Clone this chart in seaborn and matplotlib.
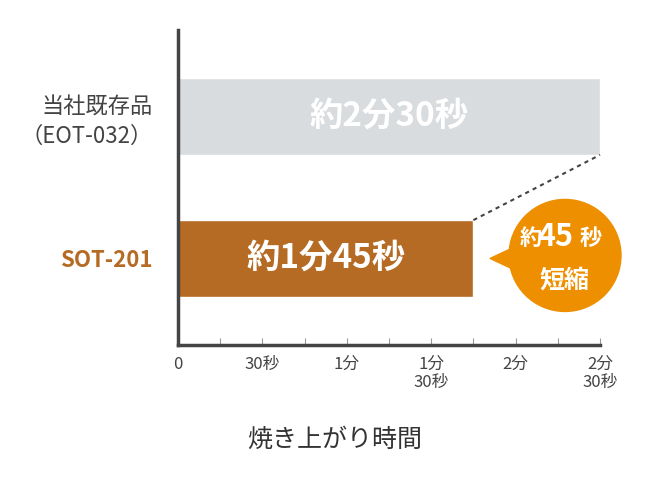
import matplotlib
matplotlib.use('Agg')
import matplotlib.pyplot as plt
import seaborn as sns
from matplotlib.patches import Ellipse, Polygon

products = ['SOT-201', '当社既存品\n（EOT-032）']
seconds = [105, 150]
bar_labels = ['約1分45秒', '約2分30秒']
bar_colors = ['#B56B24', '#D9DCDF']
tick_pos = [0, 30, 60, 90, 120, 150]
tick_labels = ['0', '30秒', '1分', '1分\n30秒', '2分', '2分\n30秒']

sns.set_style('white')
plt.rcParams['font.family'] = ['Noto Sans CJK JP', 'DejaVu Sans']

fig = plt.figure(figsize=(6.7, 5), dpi=100)
ax = fig.add_axes([178/670, 1-345/500, 422/670, 315/500])

sns.barplot(x=seconds, y=[0, 1], orient='h', native_scale=True, palette=bar_colors,
            hue=[0, 1], legend=False, width=0.54, ax=ax, saturation=1)
ax.set_xlim(0, 150)
ax.set_ylim(-0.61, 1.61)

for y, (s, lab) in enumerate(zip(seconds, bar_labels)):
    ax.text(s/2, y, lab, ha='center', va='center', color='white', fontsize=24, fontweight='bold')

ax.set_yticks([0, 1])
ax.set_yticklabels(products, fontsize=16, color='#444444', linespacing=1.3)
ax.get_yticklabels()[0].set_color('#B56B24')
ax.get_yticklabels()[0].set_fontweight('bold')
ax.tick_params(axis='y', length=0, pad=18)

ax.set_xticks(range(0, 151, 15), minor=False)
ax.set_xticklabels([tick_labels[tick_pos.index(t)] if t in tick_pos else '' for t in range(0, 151, 15)],
                   fontsize=12, color='#444444', va='top', linespacing=1.1)
ax.tick_params(axis='x', direction='in', length=5, color='#999999', pad=8)
ax.xaxis.set_ticks_position('bottom')

for sp in ['top', 'right']:
    ax.spines[sp].set_visible(False)
for sp in ['left', 'bottom']:
    ax.spines[sp].set_color('#444444')
    ax.spines[sp].set_linewidth(2.5)

ax.plot([105, 150], [0.27, 0.73], ls=(0, (2, 2)), color='#444444', lw=1.5, clip_on=False)

pxx, pxy = 422/150, 315/2.22
cx, cy = (565-178)/pxx, (258-255)/pxy
ax.add_patch(Ellipse((cx, cy), 2*56/pxx, 2*56/pxy, color='#EE8F00', clip_on=False, zorder=5))
ax.add_patch(Polygon([((490-178)/pxx, 0), ((520-178)/pxx, 14/pxy), ((520-178)/pxx, -14/pxy)],
                     color='#EE8F00', clip_on=False, zorder=5))
ax.text(cx - 1, cy + 0.13, r'約$\mathbf{\,}$', ha='right', va='center', color='white', fontsize=16,
        fontweight='bold', zorder=6, alpha=0)
ax.text(cx - 12, cy + 0.12, '約', ha='center', va='center', color='white', fontsize=16,
        fontweight='bold', zorder=6)
ax.text(cx - 3.5, cy + 0.13, '45', ha='center', va='center', color='white', fontsize=22,
        fontweight='bold', zorder=6)
ax.text(cx + 9, cy + 0.12, '秒', ha='center', va='center', color='white', fontsize=16,
        fontweight='bold', zorder=6)
ax.text(cx, cy - 0.18, '短縮', ha='center', va='center', color='white', fontsize=18,
        fontweight='bold', zorder=6)

fig.text(335/670, 1-440/500, '焼き上がり時間', ha='center', va='center', fontsize=18, color='#333333')

fig.savefig('out.png', dpi=100)
